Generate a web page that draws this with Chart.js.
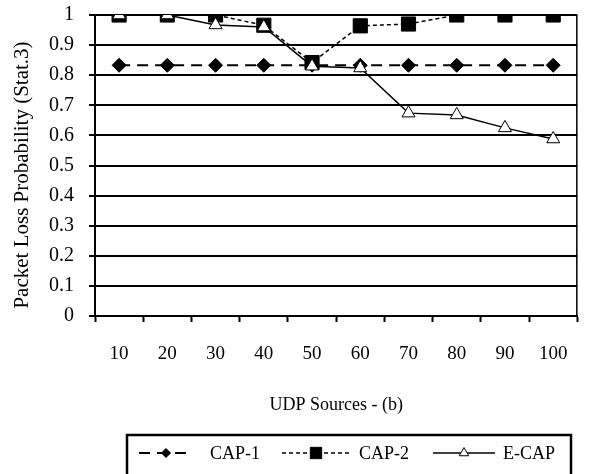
<!DOCTYPE html>
<html>
<head>
<meta charset="utf-8">
<script src="https://cdn.jsdelivr.net/npm/chart.js@4.4.1/dist/chart.umd.min.js"></script>
<style>
  html, body { margin: 0; padding: 0; background: #fff; }
  #wrap { width: 589px; height: 474px; }
</style>
</head>
<body>
<div id="wrap"><canvas id="chart" width="589" height="474"></canvas></div>
<script>
// Data
const udpSources = ['10', '20', '30', '40', '50', '60', '70', '80', '90', '100'];
const cap1 = [0.833, 0.833, 0.833, 0.833, 0.833, 0.833, 0.833, 0.833, 0.833, 0.833];
const cap2 = [1, 1, 1, 0.966, 0.842, 0.964, 0.97, 1, 1, 1];
const ecap = [1, 1, 0.967, 0.96, 0.83, 0.824, 0.674, 0.668, 0.625, 0.588];
const yTicks = ['0', '0.1', '0.2', '0.3', '0.4', '0.5', '0.6', '0.7', '0.8', '0.9', '1'];
const yTitle = 'Packet Loss Probability (Stat.3)';

const FONT = "'Liberation Serif', 'Times New Roman', serif";

// y title, right frame line and legend box under the chart
const framePlugin = {
    id: 'frame',
    afterDraw(chart) {
        const ctx = chart.ctx;
        const area = chart.chartArea;
        ctx.save();

        ctx.save();
        ctx.translate(28, 175);
        ctx.rotate(-Math.PI / 2);
        ctx.fillStyle = '#000';
        ctx.font = '21px ' + FONT;
        ctx.textAlign = 'center';
        ctx.textBaseline = 'alphabetic';
        ctx.fillText(yTitle, 0, 0);
        ctx.restore();

        ctx.strokeStyle = '#000';
        ctx.lineWidth = 1.5;
        ctx.beginPath();
        ctx.moveTo(area.right - 0.5, area.top);
        ctx.lineTo(area.right - 0.5, area.bottom);
        ctx.stroke();

        // legend
        ctx.lineWidth = 2.5;
        ctx.strokeRect(127, 435, 444, 60);

        const items = [
            { ds: chart.data.datasets[0], x0: 139, x1: 193, tx: 210, r: 4.5 },
            { ds: chart.data.datasets[1], x0: 282, x1: 350, tx: 359, r: 8 },
            { ds: chart.data.datasets[2], x0: 433, x1: 495, tx: 503, r: 5.5 }
        ];
        const y = 453;
        items.forEach(it => {
            ctx.save();
            ctx.strokeStyle = '#000';
            ctx.lineWidth = it.ds.borderWidth;
            ctx.setLineDash(it.ds.borderDash || []);
            ctx.beginPath();
            ctx.moveTo(it.x0, y);
            ctx.lineTo(it.x1, y);
            ctx.stroke();
            ctx.restore();
            ctx.fillStyle = it.ds.pointBackgroundColor;
            ctx.strokeStyle = '#000';
            ctx.lineWidth = 1;
            Chart.helpers.drawPoint(ctx, { pointStyle: it.ds.pointStyle, radius: it.r, borderWidth: 1 },
                (it.x0 + it.x1) / 2, y);
            ctx.fillStyle = '#000';
            ctx.font = '18px ' + FONT;
            ctx.textBaseline = 'middle';
            ctx.textAlign = 'left';
            ctx.fillText(it.ds.label, it.tx, y + 1);
        });
        ctx.restore();
    }
};

const ctx = document.getElementById('chart').getContext('2d');
const chart = new Chart(ctx, {
    type: 'line',
    data: {
        labels: udpSources,
        datasets: [
            {
                label: 'CAP-1',
                data: cap1,
                borderColor: '#000',
                borderWidth: 2,
                borderDash: [11, 7],
                pointStyle: 'rectRot',
                pointRadius: 7,
                pointBackgroundColor: '#000',
                pointBorderColor: '#000',
                pointBorderWidth: 1,
                order: 3
            },
            {
                label: 'CAP-2',
                data: cap2,
                borderColor: '#000',
                borderWidth: 1.5,
                borderDash: [4, 3],
                pointStyle: 'rect',
                pointRadius: 10,
                pointBackgroundColor: '#000',
                pointBorderColor: '#000',
                pointBorderWidth: 1,
                order: 2
            },
            {
                label: 'E-CAP',
                data: ecap,
                borderColor: '#000',
                borderWidth: 1.5,
                pointStyle: 'triangle',
                pointRadius: 7.5,
                pointBackgroundColor: '#fff',
                pointBorderColor: '#000',
                pointBorderWidth: 1,
                order: 1
            }
        ]
    },
    options: {
        responsive: false,
        animation: false,
        events: [],
        layout: { padding: { top: 15, right: 4, bottom: 55, left: 0 } },
        plugins: {
            legend: { display: false },
            tooltip: { enabled: false }
        },
        scales: {
            x: {
                offset: true,
                grid: {
                    offset: true,
                    drawOnChartArea: false,
                    drawTicks: true,
                    tickLength: 6,
                    tickColor: '#000',
                    tickWidth: 2
                },
                border: { display: true, color: '#000', width: 2 },
                ticks: {
                    color: '#000',
                    padding: 21,
                    maxRotation: 0,
                    font: { family: FONT, size: 19 }
                },
                title: {
                    display: true,
                    text: 'UDP Sources - (b)',
                    color: '#000',
                    font: { family: FONT, size: 18 },
                    padding: { top: 0, bottom: 3 }
                },
                afterFit: s => { s.height = 103; }
            },
            y: {
                min: 0,
                max: 1,
                grid: {
                    color: '#000',
                    lineWidth: 2,
                    drawTicks: true,
                    tickLength: 6,
                    tickColor: '#000'
                },
                border: { display: true, color: '#000', width: 2 },
                ticks: {
                    stepSize: 0.1,
                    color: '#000',
                    padding: 15,
                    font: { family: FONT, size: 20 },
                    callback: (v) => yTicks[Math.round(v * 10)]
                },
                title: { display: false },
                afterFit: s => {
                    s.width = 95;
                    s.paddingTop = 0;
                    s.paddingBottom = 0;
                }
            }
        }
    },
    plugins: [framePlugin]
});
</script>
</body>
</html>
